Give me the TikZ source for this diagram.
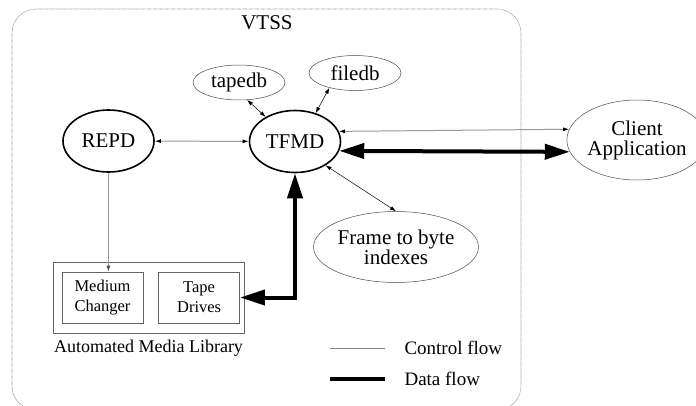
\documentclass[tikz,border=0pt]{standalone}
\usepackage{fontspec}
\setmainfont{Liberation Serif}
\usetikzlibrary{arrows.meta, positioning, shapes.geometric}

\newcommand\nodefont{\fontsize{21}{20}\selectfont}
\newcommand\boxfont{\fontsize{16.5}{20}\selectfont}

\begin{document}
\begin{tikzpicture}[x=1pt, y=-1pt,
  text centered,
  proc/.style = {ellipse, draw, line width=1.6pt, inner sep=0pt,
                 minimum width=91pt, minimum height=62pt, font=\nodefont},
  store/.style = {ellipse, draw=black!70, line width=0.5pt, inner sep=0pt,
                 minimum width=92pt, minimum height=35pt, font=\nodefont, align=center},
  unit/.style = {rectangle, draw=black!60, line width=0.6pt,
                 minimum width=81pt, minimum height=51pt, align=center, font=\boxfont},
  ctrl/.style = {draw=black!40, line width=1pt,
                 {Latex[length=6pt,width=4pt,color=black]}-{Latex[length=6pt,width=4pt,color=black]}},
  link/.style = {line width=0.5pt, {Latex[length=6pt,width=4pt]}-{Latex[length=6pt,width=4pt]}},
  data/.style = {line width=4pt, {Triangle[length=25pt,width=15pt]}-{Triangle[length=25pt,width=15pt]}}
                    ]
\useasboundingbox (0,0) rectangle (696,405);
\draw [black!45, line width=0.6pt, dash pattern=on 0.6pt off 0.6pt, rounded corners=24pt]
  (12,9) rectangle (521,410);
\node (vtss) at (267,23) {\nodefont VTSS};

\node (repd) [proc] at (108.5,141) {REPD};
\node (tfmd) [proc] at (295,141.5) {TFMD};
\node (tapedb) [store] at (239,82.5) {tapedb};
\node (filedb) [store] at (355,73) {filedb};
\node (client) [store, minimum width=122pt, minimum height=80pt] at (637,140) {Client\\Application};
\node (frame) [store, minimum width=142pt, minimum height=71pt] at (396,247) {Frame to byte\\indexes};

\node (library) [rectangle, draw=black!60, line width=0.6pt,
  minimum width=191pt, minimum height=71pt] at (148.5,297.5) {};
\node (medium) [unit] at (102.5,297.5) {Medium\\Changer};
\node (tape) [unit, right=15pt of medium] {Tape\\Drives};
\node (libtxt) [below=3pt of library, font=\fontsize{18}{20}\selectfont] {Automated Media Library};

\node (ctrltxt) [anchor=west, font=\fontsize{19}{20}\selectfont] at (401,348) {Control flow};
\node (datatxt) [anchor=west, font=\fontsize{19}{20}\selectfont] at (401,378.5) {Data flow};

% connections
\draw [ctrl] (repd) -- (tfmd);
\draw [link] (tapedb.-65) -- (tfmd.140);
\draw [link] (filedb.210) -- (tfmd.54);
\draw [link] (tfmd.-38) -- (frame.north);
\draw [ctrl] (tfmd.13.8) -- (client.171.4);
\draw [data] (tfmd.-12) -- (client.190.3);
\draw [data] (tfmd.south) |- (tape.east);
\draw [draw=black!40, line width=1pt, -{Latex[length=6pt,width=4pt,color=black!70]}]
  (repd.south) -- (repd.south |- medium.north);

% legend
\draw [draw=black!50, line width=0.6pt] (ctrltxt.west) ++(-16,0) -- ++(-55,0);
\draw [line width=4pt] (datatxt.west) ++(-16,0) -- ++(-55,0);
\end{tikzpicture}
\end{document}
